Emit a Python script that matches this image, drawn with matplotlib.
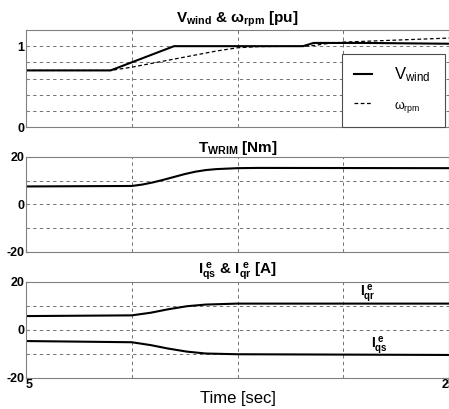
import numpy as np
import matplotlib
matplotlib.use('Agg')
import matplotlib.pyplot as plt

plt.rcParams['font.family'] = ['Liberation Sans', 'DejaVu Sans']
plt.rcParams['mathtext.fontset'] = 'custom'
plt.rcParams['mathtext.rm'] = 'Liberation Sans'
plt.rcParams['mathtext.it'] = 'Liberation Sans:italic'
plt.rcParams['mathtext.bf'] = 'Liberation Sans:bold'

# ---- data ----
t_wind = [5, 9, 12, 18.1, 18.6, 21, 25]
v_wind = [0.70, 0.70, 1.00, 1.00, 1.04, 1.04, 1.03]

t_rpm = [5, 9, 10, 11, 12, 13, 14, 15, 16, 18.2, 18.7, 19, 20, 21, 22, 23, 24, 25]
w_rpm = [0.70, 0.70, 0.74, 0.79, 0.84, 0.89, 0.94, 0.98, 0.995, 1.0, 1.01,
         1.025, 1.05, 1.06, 1.07, 1.08, 1.09, 1.10]

t_torque = [5, 10, 10.5, 11, 11.5, 12, 12.5, 13, 13.5, 14, 15, 16, 25]
torque = [7.6, 7.8, 8.4, 9.3, 10.4, 11.6, 12.8, 13.8, 14.5, 14.9, 15.3, 15.4, 15.3]

t_cur = [5, 10, 10.9, 11.7, 12.6, 13.5, 15, 25]
i_qr = [5.8, 6.1, 7.2, 8.6, 9.9, 10.6, 11.0, 11.0]
i_qs = [-4.6, -5.1, -6.3, -7.7, -9.0, -9.8, -10.1, -10.4]

x_ticks = [5, 10, 15, 20, 25]
x_ticklabels = ['5', '', '', '', '25']

fig = plt.figure(figsize=(4.49, 4.09), dpi=100)
W, H = 449.0, 409.0


def make_axes(top_px, bot_px):
    return fig.add_axes([26 / W, 1 - bot_px / H, 423 / W, (bot_px - top_px) / H])


def style(ax, yticks, ylabels):
    ax.set_xlim(5, 25)
    ax.set_xticks(x_ticks)
    ax.set_xticklabels([])
    ax.set_yticks(yticks)
    ax.set_yticklabels(ylabels, fontsize=9, fontweight='bold')
    ax.grid(True, color='0.35', linestyle=(0, (4, 4)), linewidth=0.6)
    for s in ax.spines.values():
        s.set_color('0.5')
        s.set_linewidth(0.8)
    ax.tick_params(direction='in', length=2, color='0.5', pad=1)


# ---- top: wind speed and rotor speed ----
ax1 = make_axes(30, 127)
ax1.plot(t_wind, v_wind, color='black', lw=1.5, label=r'V$_{\rm wind}$')
ax1.plot(t_rpm, w_rpm, color='black', lw=0.9, linestyle=(0, (3, 2)),
         label=r'$\mathrm{\omega}_{\rm rpm}$')
ax1.set_ylim(0, 1.2)
style(ax1, [0, 0.2, 0.4, 0.6, 0.8, 1.0], ['0', '', '', '', '', '1'])
ax1.set_title(r'V$_{\mathbf{wind}}$ & $\mathbf{\omega}_{\mathbf{rpm}}$ [pu]',
              fontsize=11, fontweight='bold', pad=5)
leg = ax1.legend(loc='lower left', bbox_to_anchor=(0.747, 0.0, 0.243, 0.75),
                 mode='expand', borderaxespad=0, fontsize=12, frameon=True,
                 fancybox=False, edgecolor='0.3', framealpha=1,
                 handlelength=1.1, labelspacing=0.8, borderpad=0.7,
                 handletextpad=1.3)
leg.get_frame().set_linewidth(0.8)
leg.get_texts()[1].set_fontsize(9)

# ---- middle: torque ----
ax2 = make_axes(157, 252)
ax2.plot(t_torque, torque, color='black', lw=1.5)
ax2.set_ylim(-20, 20)
style(ax2, [-20, -10, 0, 10, 20], ['-20', '', '0', '', '20'])
ax2.set_title(r'T$_{\mathbf{WRIM}}$ [Nm]', fontsize=11, fontweight='bold', pad=3)

# ---- bottom: q-axis currents ----
ax3 = make_axes(282, 378)
ax3.plot(t_cur, i_qr, color='black', lw=1.5)
ax3.plot(t_cur, i_qs, color='black', lw=1.5)
ax3.set_ylim(-20, 20)
style(ax3, [-20, -10, 0, 10, 20], ['-20', '', '0', '', '20'])
ax3.set_xticklabels(x_ticklabels, fontsize=9, fontweight='bold')
ax3.get_xticklabels()[0].set_horizontalalignment('left')
ax3.tick_params(axis='x', pad=1)
ax3.set_title(r'I$_{\mathbf{qs}}^{\ \mathbf{e}}$ & I$_{\mathbf{qr}}^{\ \mathbf{e}}$ [A]',
              fontsize=11, fontweight='bold', pad=3)
ax3.set_xlabel('Time [sec]', fontsize=12, labelpad=0)
ax3.text(20.8, 14.5, r'I$_{\mathbf{qr}}^{\ \mathbf{e}}$', fontsize=10, fontweight='bold')
ax3.text(21.3, -7.2, r'I$_{\mathbf{qs}}^{\ \mathbf{e}}$', fontsize=10, fontweight='bold')

fig.savefig('out.png', dpi=100)
